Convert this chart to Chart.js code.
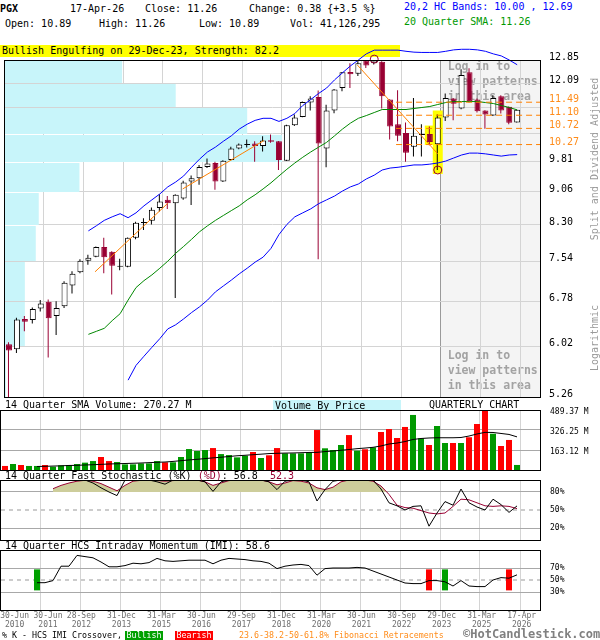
<!DOCTYPE html>
<html lang="en">
<head>
<meta charset="utf-8">
<title>PGX - Quarterly Candlestick Chart</title>
<script src="https://cdn.jsdelivr.net/npm/chart.js@4.4.1/dist/chart.umd.min.js"></script>
<style>
  html, body { margin: 0; padding: 0; background: #fff; }
  #page { position: relative; width: 600px; height: 640px; overflow: hidden;
          font-family: "DejaVu Sans Mono", monospace; font-size: 10px; color: #000; }
  .t { position: absolute; white-space: pre; line-height: 12px; z-index: 3; }
  .small { font-size: 8.3px; line-height: 10px; }
  canvas { position: absolute; left: 0; z-index: 2; }
  .vt { position: absolute; white-space: pre; color: #9a9a9a; line-height: 12px; z-index: 3;
        transform: translate(-50%, -50%) rotate(-90deg); }
  .crimson { color: #990033; }
  .tag { position: absolute; z-index: 3; height: 9px; line-height: 9px; color: #fff;
         text-align: center; font-size: 8.3px; }
</style>
</head>
<body>
<div id="page">
  <div class="t" style="left:0;top:3px;font-weight:bold">PGX</div>
  <div class="t" style="left:70px;top:3px">17-Apr-26</div>
  <div class="t" style="left:145px;top:3px" id="hClose"></div>
  <div class="t" style="left:249px;top:3px" id="hChange"></div>
  <div class="t" style="left:404px;top:1px;color:#0000ff" id="hBands"></div>
  <div class="t" style="left:5px;top:18px" id="hOpen"></div>
  <div class="t" style="left:99px;top:18px" id="hHigh"></div>
  <div class="t" style="left:199px;top:18px" id="hLow"></div>
  <div class="t" style="left:290px;top:18px" id="hVol"></div>
  <div class="t" style="left:404px;top:16px;color:#009900" id="hSma"></div>

  <div class="t" style="left:0;top:45px;width:398px;height:12px;padding-left:2px;background:#ffff00;z-index:1">Bullish Engulfing on 29-Dec-23, Strength: 82.2</div>

  <div class="vt" style="left:595px;top:159px">Split and Dividend Adjusted</div>
  <div class="vt" style="left:595px;top:338px">Logarithmic</div>

  <canvas id="priceChart" width="600" height="362" style="top:40px"></canvas>

  <div class="t" style="left:5px;top:399px" id="hVolSma"></div>
  <div class="t" style="left:273px;top:400px;width:126px;height:10px;line-height:11px;padding-left:2px;background:#c8f5fa">Volume By Price</div>
  <div class="t" style="left:429px;top:399px">QUARTERLY CHART</div>
  <canvas id="volumeChart" width="600" height="68" style="top:404px"></canvas>

  <div class="t" style="left:5px;top:470px" id="hStoch"></div>
  <canvas id="stochChart" width="600" height="66" style="top:476px"></canvas>

  <div class="t" style="left:5px;top:540px" id="hImi"></div>
  <canvas id="imiChart" width="600" height="88" style="top:546px"></canvas>

  <div class="t small" style="left:2px;top:630px">% K - HCS IMI Crossover,</div>
  <div class="tag" style="left:125px;top:631px;width:38px;background:#00a000">Bullish</div>
  <div class="tag" style="left:175px;top:631px;width:38px;background:#ff0000">Bearish</div>
  <div class="t small" style="left:239px;top:630px;color:#ff8c1a">23.6-38.2-50-61.8% Fibonacci Retracements</div>
  <div class="t" style="left:463px;top:627px;font-size:12px;line-height:14px;font-weight:bold;color:#808080">©HotCandlestick.com</div>
</div>

<script>
// ---------- quarterly bars, Jun-2010 .. Apr-2026 (split & dividend adjusted) ----------
const QUARTERS = ['Jun-10','Sep-10','Dec-10',
  'Mar-11','Jun-11','Sep-11','Dec-11','Mar-12','Jun-12','Sep-12','Dec-12',
  'Mar-13','Jun-13','Sep-13','Dec-13','Mar-14','Jun-14','Sep-14','Dec-14',
  'Mar-15','Jun-15','Sep-15','Dec-15','Mar-16','Jun-16','Sep-16','Dec-16',
  'Mar-17','Jun-17','Sep-17','Dec-17','Mar-18','Jun-18','Sep-18','Dec-18',
  'Mar-19','Jun-19','Sep-19','Dec-19','Mar-20','Jun-20','Sep-20','Dec-20',
  'Mar-21','Jun-21','Sep-21','Dec-21','Mar-22','Jun-22','Sep-22','Dec-22',
  'Mar-23','Jun-23','Sep-23','Dec-23','Mar-24','Jun-24','Sep-24','Dec-24',
  'Mar-25','Jun-25','Sep-25','Dec-25','Mar-26','Apr-26'];

const OPEN = [6.05,5.97,6.47,6.45,6.65,6.77,6.52,6.69,7.07,7.32,
  7.55,7.63,7.83,7.73,7.43,7.43,8.02,8.34,8.39,8.68,
  8.87,8.79,8.90,9.31,9.39,9.68,9.78,9.31,9.86,10.16,
  10.26,10.30,10.23,10.39,10.36,9.84,10.81,11.05,11.48,11.65,
  10.16,11.24,11.93,12.45,12.39,12.83,12.74,12.79,11.57,10.84,
  10.59,10.21,10.53,10.56,10.28,11.03,11.60,11.30,12.44,11.57,
  11.24,11.09,11.67,11.35,10.89];
const HIGH = [6.08,6.49,6.52,6.67,6.80,6.81,6.78,7.15,7.34,7.58,
  7.67,7.84,8.02,7.74,7.59,8.03,8.37,8.45,8.69,9.00,
  8.96,9.00,9.33,9.46,9.73,9.90,9.81,9.85,10.21,10.30,
  10.41,10.36,10.50,10.55,10.37,10.82,11.12,11.51,11.67,11.85,
  11.41,11.90,12.45,12.74,12.85,12.86,12.88,12.81,11.58,11.86,
  10.89,11.62,10.84,10.77,11.12,11.76,11.62,12.54,12.57,11.60,
  11.25,11.70,11.70,11.36,11.26];
const LOW = [5.20,5.91,6.26,6.39,6.60,5.84,6.20,6.66,6.92,7.30,
  7.47,7.62,7.30,6.90,7.36,7.42,7.99,8.19,8.31,8.60,
  8.66,6.84,8.87,8.75,9.23,9.65,9.11,9.30,9.85,10.14,
  10.19,9.81,10.08,10.32,9.60,9.83,10.79,11.04,11.24,7.58,
  9.67,11.16,11.83,11.93,12.32,12.58,12.70,11.30,10.41,10.36,
  9.81,9.95,9.95,10.25,9.60,10.93,10.95,11.28,11.48,11.18,
  10.71,11.08,11.15,10.84,10.89];
const CLOSE = [5.95,6.46,6.42,6.64,6.74,6.48,6.66,7.12,7.29,7.55,
  7.61,7.83,7.62,7.45,7.44,8.02,8.35,8.36,8.64,8.83,
  8.79,8.99,9.29,9.39,9.68,9.77,9.31,9.84,10.16,10.27,
  10.28,10.23,10.38,10.35,9.86,10.81,11.03,11.50,11.60,10.30,
  11.24,11.88,12.44,12.37,12.74,12.66,12.83,11.67,10.77,10.51,
  10.05,10.51,10.55,10.34,11.03,11.62,11.44,12.35,11.52,11.22,
  11.12,11.62,11.24,10.88,11.26];

// volume, millions of shares
const VOLUME_M = [33,49,41,33,33,41,27,38,41,49,
  60,73,106,73,65,46,46,54,54,73,
  63,63,106,171,155,163,179,130,122,103,
  117,147,98,120,179,136,136,136,144,326,
  177,163,204,285,158,169,185,310,334,261,
  351,449,258,204,359,220,220,220,267,375,
  487,296,196,245,41.126295];
const VOLUME_SMA_M = [null,null,null,null,
  28.5,30,32,34,37,38,
  41,43,46,49,51,53,55,57,60,63,
  65,70,76,82,87,93,99,104,110,116,
  120,125,129,134,136,138,139,141,143,144,
  150,155,161,167,174,179,185,196,212,220,
  232,249,257,261,263,263,263,265,277,294,
  307,306,298,290,270.27];

// 20,2 bands and 20 quarter SMA
const UPPER_BAND = [null,null,null,null,null,null,null,null,null,null,
  8.17,8.28,8.40,8.48,8.55,8.46,8.57,8.73,8.87,9.01,
  9.18,9.30,9.45,9.67,9.88,10.07,10.20,10.36,10.51,10.70,
  10.84,10.95,11.01,11.01,10.92,11.01,11.15,11.39,11.57,11.76,
  11.93,12.19,12.42,12.65,12.85,13.06,13.19,13.19,13.19,13.19,
  13.15,13.12,13.11,13.11,13.11,13.15,13.20,13.22,13.22,13.20,
  13.15,13.06,12.99,12.85,12.69];
const LOWER_BAND = [null,null,null,null,null,null,null,null,null,null,
  null,null,null,null,null,5.50,5.72,5.86,6.00,6.14,
  6.30,6.37,6.47,6.58,6.68,6.80,6.95,7.06,7.17,7.29,
  7.40,7.52,7.62,7.80,8.09,8.31,8.48,8.57,8.66,8.78,
  8.87,8.96,9.08,9.18,9.25,9.375,9.47,9.60,9.65,9.67,
  9.70,9.73,9.73,9.75,9.78,9.83,9.91,9.99,10.04,10.04,
  10.02,9.99,9.96,9.99,10.00];
const SMA20 = [null,null,null,null,null,null,null,null,null,null,
  6.21,6.26,6.31,6.44,6.56,6.80,7.03,7.16,7.27,7.40,
  7.54,7.70,7.84,7.99,8.15,8.28,8.40,8.51,8.62,8.73,
  8.87,8.99,9.13,9.28,9.45,9.62,9.78,9.93,10.07,10.20,
  10.33,10.51,10.70,10.87,11.01,11.09,11.18,11.27,11.27,11.27,
  11.27,11.30,11.33,11.36,11.42,11.48,11.51,11.51,11.51,11.51,
  11.48,11.45,11.39,11.33,11.26];

// 14 quarter fast stochastic
const STOCH_K = [null,null,null,null,null,null,
  100,100,100,100,
  100,95,87,80,74,100,100,100,100,97,
  93,100,100,100,100,97,81,97,100,100,
  100,100,100,97,84,98,100,100,97,65,
  84,98,100,100,100,100,100,85,62,57,
  50,56,57,23,45,64,58,85,62,55,
  50,68,59,46,56.8];
const STOCH_D = [null,null,null,null,null,null,
  85.5,91,95,98,
  99.5,98,94,88,82,91,98,99.5,100,99,
  98,99,100,100,100,97,91,95,99,100,
  100,100,100,97,92,95,99,98,95,87,
  84,88,97,100,100,100,98,90,76,58,
  54,53,49,45,43.5,45,56,68,67,62,
  57,56,57,56,52.3];

// 14 quarter HCS intraday momentum
const IMI = [null,null,null,null,
  45.5,45.5,49,73,73,91,
  89,87,80,72,72,74,78,77,79,86,
  82,81,82,83,83,83,77,83,86,85,
  84,82,81,78,69,73,75,76,74,58,
  69,70,70,70,71,70,65,60,55,50,
  45,44,44,49,49,47,40,49,40,39,
  39,50,54,53,58.6];

// %K / IMI crossover signals
const SIGNAL_Q = [4, 53, 55, 63];
const SIGNAL_BULL = [true, false, true, false];
const SIGNAL_RANGE = [32.7, 67.7];

// axis ticks
const PRICE_TICKS = [12.85, 12.09, 11.33, 10.57, 9.81, 9.06, 8.30, 7.54, 6.78, 6.02, 5.26];
const UNLABELLED_TICKS = [11.33, 10.57];
const FIB_LEVELS = [11.49, 11.10, 10.72, 10.27];
const VOLUME_TICKS = [163.12, 326.25, 489.37];
const STOCH_TICKS = [20, 50, 80];
const IMI_TICKS = [30, 50, 70];
const MID_LEVEL = 50;
const OVERBOUGHT = 80;

// volume by price (millions of shares per price band)
const VBP_LOW  = [12.09, 11.33, 10.57, 9.81, 9.06, 8.30, 7.54, 6.78, 6.02, 5.26];
const VBP_HIGH = [12.85, 12.09, 11.33, 10.57, 9.81, 9.06, 8.30, 7.54, 6.78, 6.02];
const VBP_VOL  = [1180, 1720, 2440, 2790, 750, 340, 310, 200, 200, 10];
const VBP_AXIS_MAX = 5390;

// trend lines (quarter index, price)
const TREND_FROM_Q = [10.84, 21.875, 43.875];
const TREND_FROM_P = [7.33, 9.13, 12.68];
const TREND_TO_Q   = [20, 32.1, 54];
const TREND_TO_P   = [8.79, 10.38, 10.02];
const FIB_FROM_Q = 48.75;

// engulfing pattern highlight and swing pivots
const PATTERN_Q = [53, 54];
const PATTERN_LOW = [10.26, 9.50];
const PATTERN_HIGH = [10.80, 11.24];
const PIVOT_Q = [46, 54];
const PIVOT_P = [12.88, 9.60];

// time axis
const X_MIN = -0.5, X_MAX = 66.875;
const X_GRID_Q = [4.375, 9.375, 14.375, 19.375, 24.375, 29.375, 34.375, 39.375, 44.375, 49.375, 54.375, 59.375, 64.375];
const X_LABEL_Q = [1.2, 5.375, 9.54, 14.56, 19.56, 24.56, 29.56, 34.56, 39.56, 44.56, 49.58, 54.58, 59.58, 64.58];
const X_LABEL_DAY = ['30-Jun','30-Jun','28-Sep','31-Dec','31-Mar','30-Jun','29-Sep','31-Dec','31-Mar','30-Jun','30-Sep','29-Dec','31-Mar','17-Apr'];
const X_LABEL_YEAR = ['2010','2011','2012','2013','2015','2016','2017','2018','2020','2021','2022','2023','2025','2026'];
const LOCKED_FROM = 54.375;

// ---------- colours ----------
const CRIMSON = '#990033', BLUE = '#0000ff', SMA_GREEN = '#008800', ORANGE = '#ff8c1a';
const TREND_ORANGE = '#ff8000', YELLOW = '#ffff00', CYAN = '#c8f5fa', KHAKI = '#cdcd9b';
const GRID = '#d4d4d4', HGRID = '#a8a8a8', ZONE_EDGE = '#9a9a9a', CLEAR = 'rgba(0,0,0,0)';
const VOL_UP = '#009900', VOL_DOWN = '#ff0000', SIG_UP = '#00a000', SIG_DOWN = '#ff0000';

// ---------- helpers ----------
const IDX = QUARTERS.map((_, i) => i);
const L = CLOSE.length - 1;
const isUp = i => CLOSE[i] >= OPEN[i];
const series = arr => arr.map((v, i) => ({ x: i, y: v })).filter(p => p.y !== null);
const f2 = v => v.toFixed(2);
const byValue = (a, b) => a - b;
// keep the plotting areas exactly where the layout puts them (no label overhang padding)
const noOverhang = s => { s.paddingLeft = 0; s.paddingRight = 0; s.paddingTop = 0; s.paddingBottom = 0; };

Chart.defaults.font.family = '"DejaVu Sans Mono", monospace';
Chart.defaults.font.size = 10;
Chart.defaults.color = '#000';
Chart.defaults.animation = false;
Chart.defaults.responsive = false;
Chart.defaults.maintainAspectRatio = false;
Chart.defaults.devicePixelRatio = 1;
Chart.defaults.events = [];
Chart.defaults.plugins.legend.display = false;
Chart.defaults.plugins.tooltip.enabled = false;

// black frame round the plotting area
const frame = {
  id: 'frame',
  afterDraw(chart) {
    const { ctx, chartArea: a } = chart;
    ctx.save();
    ctx.strokeStyle = '#000';
    ctx.lineWidth = 1;
    ctx.strokeRect(a.left - 0.5, a.top + 0.5, a.right - a.left + 1, a.bottom - a.top);
    ctx.restore();
  }
};

// shaded members-only zone on the right of the price panel
const lockedZone = {
  id: 'lockedZone',
  beforeDraw(chart) {
    const { ctx, chartArea: a, scales } = chart;
    const x0 = scales.x.getPixelForValue(LOCKED_FROM);
    ctx.save();
    ctx.fillStyle = '#f4f4f4';
    ctx.fillRect(x0, a.top, a.right - x0, a.bottom - a.top);
    ctx.fillStyle = '#a3a3a3';
    ctx.font = 'bold 11.5px "DejaVu Sans Mono", monospace';
    ctx.textBaseline = 'middle';
    ['Log in to', 'view patterns', 'in this area'].forEach((s, k) => {
      ctx.fillText(s, x0 + 7, a.top + 7 + 15 * k);
      ctx.fillText(s, x0 + 7, a.bottom - 41 + 15 * k);
    });
    ctx.restore();
  }
};

// horizontal volume-by-price histogram, one band per price grid interval
const volumeByPrice = {
  id: 'volumeByPrice',
  beforeDatasetsDraw(chart) {
    const { ctx, scales } = chart;
    const y = scales.y, xv = scales.xv;
    const x0 = xv.getPixelForValue(0);
    ctx.save();
    ctx.fillStyle = CYAN;
    VBP_VOL.forEach((v, k) => {
      const top = Math.round(y.getPixelForValue(VBP_HIGH[k])) + 1;
      const bot = Math.round(y.getPixelForValue(VBP_LOW[k]));
      ctx.fillRect(x0, top, xv.getPixelForValue(v) - x0, bot - top);
    });
    ctx.restore();
  }
};

function quarterScale(withLabels, zone) {
  return {
    type: 'linear', min: X_MIN, max: X_MAX, bounds: 'data', offset: false,
    afterBuildTicks: s => {
      const vals = withLabels ? X_GRID_Q.concat(X_LABEL_Q) : X_GRID_Q.slice();
      s.ticks = vals.sort(byValue).map(v => ({ value: v }));
    },
    grid: {
      drawTicks: false, offset: false,
      color: c => (!c.tick || !X_GRID_Q.includes(c.tick.value)) ? CLEAR
        : (zone && c.tick.value === LOCKED_FROM ? ZONE_EDGE : GRID)
    },
    border: { display: false },
    ticks: withLabels ? {
      autoSkip: false, maxRotation: 0, minRotation: 0, padding: 1, color: '#6e6e6e',
      font: { size: 8, lineHeight: 1.125 },
      callback: v => { const k = X_LABEL_Q.indexOf(v); return k < 0 ? '' : [X_LABEL_DAY[k], X_LABEL_YEAR[k]]; }
    } : { display: false },
    afterFit: s => { s.height = withLabels ? 24 : 0; noOverhang(s); }
  };
}

function valueScale(ticks, opts) {
  return Object.assign({
    type: 'linear', position: 'right', bounds: 'data',
    afterBuildTicks: s => { s.ticks = ticks.slice().sort(byValue).map(v => ({ value: v })); },
    grid: { drawTicks: false, color: c => (c.tick && c.tick.value === MID_LEVEL && opts.dashedMid) ? CLEAR : HGRID },
    border: { display: false },
    ticks: { autoSkip: false, padding: 10, labelOffset: opts.labelOffset || 0, font: { size: 8 }, callback: opts.format },
    afterFit: s => { s.width = 60; noOverhang(s); }
  }, opts.range);
}

function midLine() {
  return { type: 'line', data: [{ x: X_MIN, y: MID_LEVEL }, { x: X_MAX, y: MID_LEVEL }],
           borderColor: '#9a9a9a', borderWidth: 1, borderDash: [4, 4], pointRadius: 0, order: 9 };
}

// ---------- price panel ----------
const trendSets = TREND_FROM_Q.map((q, k) => ({
  type: 'line', label: 'Trend ' + (k + 1),
  data: [{ x: q, y: TREND_FROM_P[k] }, { x: TREND_TO_Q[k], y: TREND_TO_P[k] }],
  borderColor: TREND_ORANGE, borderWidth: 1, pointRadius: 0, order: 2
}));
const fibSets = FIB_LEVELS.map(p => ({
  type: 'line', label: 'Fib ' + p,
  data: [{ x: FIB_FROM_Q, y: p }, { x: X_MAX, y: p }],
  borderColor: TREND_ORANGE, borderWidth: 1, borderDash: [6, 4], pointRadius: 0, order: 2
}));

new Chart(document.getElementById('priceChart'), {
  type: 'bar',
  data: {
    datasets: [
      { type: 'line', label: 'Upper band', data: series(UPPER_BAND), borderColor: BLUE, borderWidth: 1,
        pointRadius: 0, clip: { left: 0, top: false, right: 0, bottom: 0 }, order: 3 },
      { type: 'line', label: 'Lower band', data: series(LOWER_BAND), borderColor: BLUE, borderWidth: 1,
        pointRadius: 0, order: 3 },
      { type: 'line', label: '20 Quarter SMA', data: series(SMA20), borderColor: SMA_GREEN, borderWidth: 1,
        pointRadius: 0, order: 3 },
      ...trendSets,
      ...fibSets,
      { type: 'line', label: 'Pivots', data: PIVOT_Q.map((q, k) => ({ x: q, y: PIVOT_P[k] })),
        showLine: false, pointRadius: 4, pointBackgroundColor: CLEAR, pointBorderColor: CRIMSON,
        pointBorderWidth: 1, clip: false, order: 1 },
      { type: 'bar', label: 'Body', data: IDX.map(i => ({ x: i, y: [OPEN[i], CLOSE[i]] })),
        backgroundColor: IDX.map(i => isUp(i) ? '#ffffff' : CRIMSON),
        borderColor: IDX.map(i => isUp(i) ? '#000000' : CRIMSON),
        borderWidth: 1, borderSkipped: false, barThickness: 6, minBarLength: 1,
        grouped: false, inflateAmount: 0, order: 5 },
      { type: 'bar', label: 'Range', xAxisID: 'xw', data: IDX.map(i => ({ x: i, y: [LOW[i], HIGH[i]] })),
        backgroundColor: IDX.map(i => isUp(i) ? '#000000' : CRIMSON),
        barThickness: 1, grouped: false, inflateAmount: 0, order: 6 },
      { type: 'bar', label: 'Pattern', data: PATTERN_Q.map((q, k) => ({ x: q, y: [PATTERN_LOW[k], PATTERN_HIGH[k]] })),
        backgroundColor: YELLOW, barThickness: 10, grouped: false, inflateAmount: 0, order: 7 }
    ]
  },
  options: {
    layout: { padding: { top: 20, left: 1, right: 0, bottom: 2 } },
    scales: {
      x: quarterScale(false, true),
      // same time axis shifted half a pixel so 1px ranges land on whole pixels
      xw: { type: 'linear', axis: 'x', position: 'bottom', display: false, bounds: 'data', offset: false,
            min: X_MIN + 1 / 16, max: X_MAX + 1 / 16 },
      xv: { type: 'linear', axis: 'x', position: 'bottom', display: false, bounds: 'data', offset: false,
            min: 0, max: VBP_AXIS_MAX },
      y: {
        type: 'logarithmic', position: 'right', bounds: 'data',
        min: Math.min(...PRICE_TICKS), max: Math.max(...PRICE_TICKS),
        afterBuildTicks: s => { s.ticks = PRICE_TICKS.concat(FIB_LEVELS).sort(byValue).map(v => ({ value: v })); },
        grid: { drawTicks: false, color: c => (c.tick && FIB_LEVELS.includes(c.tick.value)) ? CLEAR : GRID },
        border: { display: false },
        ticks: {
          autoSkip: false, padding: 9, labelOffset: -2.5, font: { size: 10 },
          color: c => (c.tick && FIB_LEVELS.includes(c.tick.value)) ? ORANGE : '#000',
          callback: v => UNLABELLED_TICKS.includes(v) ? '' : v.toFixed(2)
        },
        afterFit: s => { s.width = 60; noOverhang(s); }
      }
    }
  },
  plugins: [lockedZone, volumeByPrice, frame]
});

// ---------- volume panel ----------
new Chart(document.getElementById('volumeChart'), {
  type: 'bar',
  data: {
    datasets: [
      { type: 'line', label: '14 Quarter SMA Volume', data: series(VOLUME_SMA_M), borderColor: '#000',
        borderWidth: 1, pointRadius: 0, order: 1 },
      { type: 'bar', label: 'Volume', data: IDX.map(i => ({ x: i, y: VOLUME_M[i] })),
        backgroundColor: IDX.map(i => isUp(i) ? VOL_UP : VOL_DOWN),
        barThickness: 6, grouped: false, inflateAmount: 0, order: 2 }
    ]
  },
  options: {
    layout: { padding: { top: 6, left: 1, right: 0, bottom: 2 } },
    scales: {
      x: quarterScale(false, false),
      y: valueScale(VOLUME_TICKS, { range: { min: 0, max: Math.max(...VOLUME_TICKS) }, labelOffset: 1.5,
                                    format: v => v.toFixed(2) + ' M' })
    }
  },
  plugins: [frame]
});

// ---------- stochastic panel ----------
new Chart(document.getElementById('stochChart'), {
  type: 'line',
  data: {
    datasets: [
      { label: '%D', data: series(STOCH_D), borderColor: CRIMSON, borderWidth: 1, pointRadius: 0,
        fill: { target: { value: OVERBOUGHT }, above: KHAKI, below: CLEAR }, order: 2 },
      { label: '%K', data: series(STOCH_K), borderColor: '#000', borderWidth: 1, pointRadius: 0,
        fill: false, order: 1 },
      midLine()
    ]
  },
  options: {
    layout: { padding: { top: 4, left: 1, right: 0, bottom: 2 } },
    plugins: { filler: { drawTime: 'beforeDatasetsDraw' } },
    scales: {
      x: quarterScale(false, false),
      y: valueScale(STOCH_TICKS, { range: { min: 0, max: 100 }, dashedMid: true, format: v => v + '%' })
    }
  },
  plugins: [frame]
});

// ---------- intraday momentum panel ----------
new Chart(document.getElementById('imiChart'), {
  type: 'line',
  data: {
    datasets: [
      { label: 'IMI', data: series(IMI), borderColor: '#000', borderWidth: 1, pointRadius: 0, order: 1 },
      { type: 'bar', label: 'Crossover', data: SIGNAL_Q.map(q => ({ x: q, y: SIGNAL_RANGE.slice() })),
        backgroundColor: SIGNAL_BULL.map(b => b ? SIG_UP : SIG_DOWN),
        barThickness: 6, grouped: false, inflateAmount: 0, order: 2 },
      midLine()
    ]
  },
  options: {
    layout: { padding: { top: 4, left: 1, right: 0, bottom: 0 } },
    scales: {
      x: quarterScale(true, false),
      y: valueScale(IMI_TICKS, { range: { min: 0, max: 100 }, dashedMid: true, format: v => v + '%' })
    }
  },
  plugins: [frame]
});

// ---------- header read-outs ----------
const setText = (id, s) => { document.getElementById(id).textContent = s; };
const change = CLOSE[L] - CLOSE[L - 1];
setText('hClose', 'Close: ' + f2(CLOSE[L]));
setText('hChange', 'Change: ' + f2(change) + ' {' + (change >= 0 ? '+' : '') + (change / CLOSE[L - 1] * 100).toFixed(1) + ' %}');
setText('hBands', '20,2 HC Bands: ' + f2(LOWER_BAND[L]) + ' , ' + f2(UPPER_BAND[L]));
setText('hSma', '20 Quarter SMA: ' + f2(SMA20[L]));
setText('hOpen', 'Open: ' + f2(OPEN[L]));
setText('hHigh', 'High: ' + f2(HIGH[L]));
setText('hLow', 'Low: ' + f2(LOW[L]));
setText('hVol', 'Vol: ' + Math.round(VOLUME_M[L] * 1e6).toLocaleString('en-US'));
setText('hVolSma', '14 Quarter SMA Volume: ' + f2(VOLUME_SMA_M[L]) + ' M');
document.getElementById('hStoch').innerHTML = '14 Quarter Fast Stochastic (%K) <span class="crimson">(%D)</span>: '
  + STOCH_K[L].toFixed(1) + '  <span class="crimson">' + STOCH_D[L].toFixed(1) + '</span>';
setText('hImi', '14 Quarter HCS Intraday Momentum (IMI): ' + IMI[L].toFixed(1));
</script>
</body>
</html>
